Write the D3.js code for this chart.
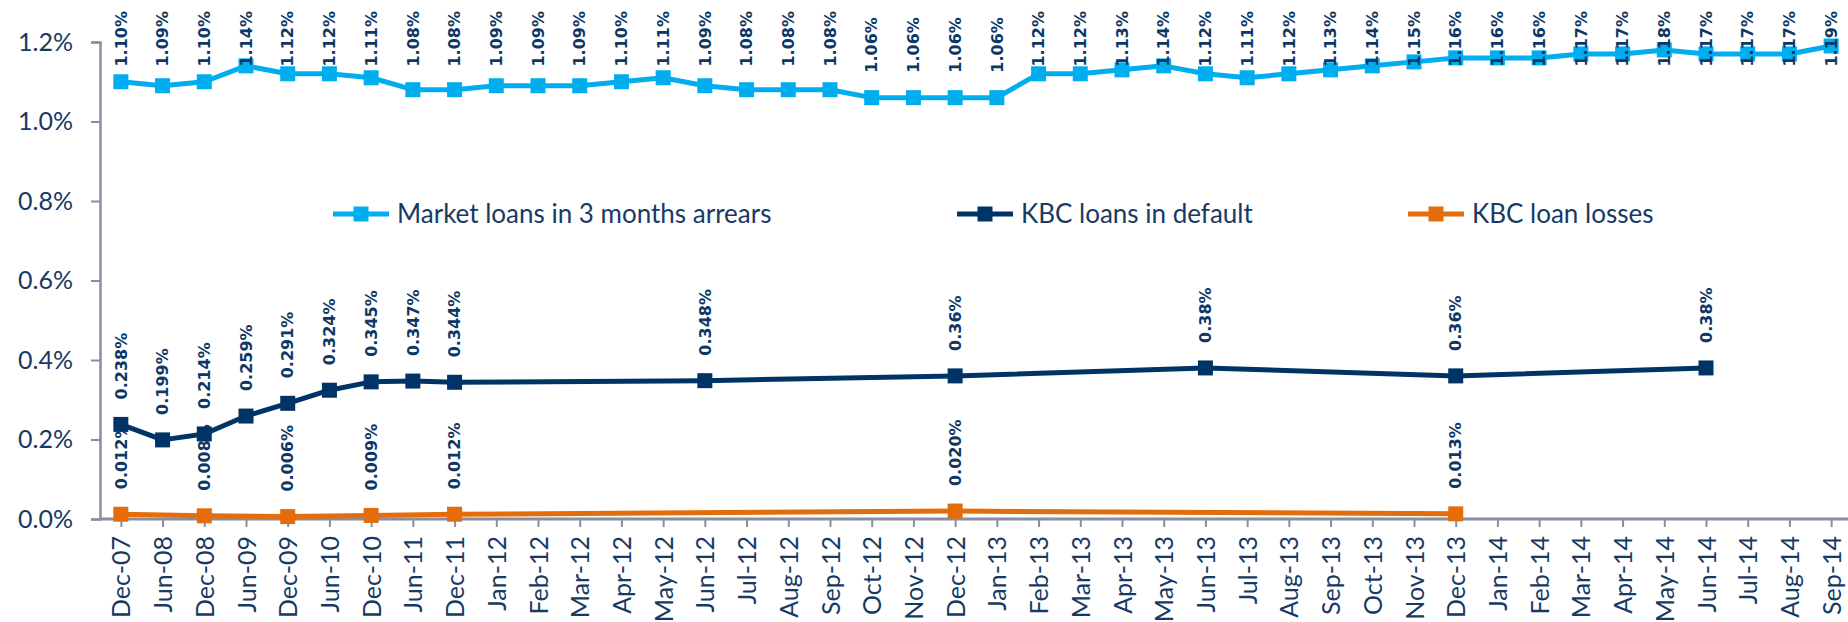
<!DOCTYPE html>
<html>
<head>
<meta charset="utf-8">
<script src="https://cdn.jsdelivr.net/npm/d3@7"></script>
<style>
  html, body { margin: 0; padding: 0; background: #fff; }
  svg { display: block; }
</style>
</head>
<body>
<svg id="chart" width="1848" height="622"></svg>
<script>
// ---------------- DATA ----------------
const categories = [
  "Dec-07","Jun-08","Dec-08","Jun-09","Dec-09","Jun-10","Dec-10","Jun-11","Dec-11",
  "Jan-12","Feb-12","Mar-12","Apr-12","May-12","Jun-12","Jul-12","Aug-12","Sep-12","Oct-12","Nov-12","Dec-12",
  "Jan-13","Feb-13","Mar-13","Apr-13","May-13","Jun-13","Jul-13","Aug-13","Sep-13","Oct-13","Nov-13","Dec-13",
  "Jan-14","Feb-14","Mar-14","Apr-14","May-14","Jun-14","Jul-14","Aug-14","Sep-14"
];
// Market loans in 3 months arrears (%), one value per category
const marketValues = [
  1.10,1.09,1.10,1.14,1.12,1.12,1.11,1.08,1.08,
  1.09,1.09,1.09,1.10,1.11,1.09,1.08,1.08,1.08,1.06,1.06,1.06,
  1.06,1.12,1.12,1.13,1.14,1.12,1.11,1.12,1.13,1.14,1.15,1.16,
  1.16,1.16,1.17,1.17,1.18,1.17,1.17,1.17,1.19
];
// KBC loans in default (%)
const defaultDates  = ["Dec-07","Jun-08","Dec-08","Jun-09","Dec-09","Jun-10","Dec-10","Jun-11","Dec-11","Jun-12","Dec-12","Jun-13","Dec-13","Jun-14"];
const defaultValues = [0.238,0.199,0.214,0.259,0.291,0.324,0.345,0.347,0.344,0.348,0.36,0.38,0.36,0.38];
// KBC loan losses (%)
const lossDates  = ["Dec-07","Dec-08","Dec-09","Dec-10","Dec-11","Dec-12","Dec-13"];
const lossValues = [0.012,0.008,0.006,0.009,0.012,0.020,0.013];
// Y axis ticks (%)
const yTicks = [0.0,0.2,0.4,0.6,0.8,1.0,1.2];

const seriesNames = ["Market loans in 3 months arrears","KBC loans in default","KBC loan losses"];
const seriesColors = ["#00AEEF","#003366","#E46C0A"];

// ---------------- LAYOUT ----------------
const W = 1848, H = 622;
const svg = d3.select("#chart");
svg.append("rect").attr("width", W).attr("height", H).attr("fill", "#fff");

const x = d3.scalePoint().domain(categories).range([100, 1852]).padding(0.5);
const y = d3.scaleLinear().domain([0, 1.2]).range([519, 42]);

const axisColor = "#878EA0";
const textColor = "#173A64";
const labelColor = "#0D3766";

// Y axis
const yAxis = svg.append("g").attr("transform", "translate(100,0)")
  .call(d3.axisLeft(y).tickValues(yTicks).tickSize(9).tickPadding(18).tickFormat(d => d.toFixed(1) + "%"));
yAxis.select(".domain").attr("stroke", axisColor).attr("stroke-width", 2.5);
yAxis.selectAll(".tick line").attr("stroke", axisColor).attr("stroke-width", 2);
yAxis.selectAll(".tick text").attr("fill", textColor)
  .style("font-family", "Lato, 'Open Sans', sans-serif").style("font-size", "25px");

// X axis
const xAxis = svg.append("g").attr("transform", "translate(0,519)")
  .call(d3.axisBottom(x).tickSize(8).tickSizeOuter(0));
xAxis.select(".domain").attr("stroke", axisColor).attr("stroke-width", 3)
  .attr("d", "M100,0H1848");
xAxis.selectAll(".tick line").attr("stroke", axisColor).attr("stroke-width", 2);
xAxis.selectAll(".tick text")
  .attr("fill", textColor)
  .style("font-family", "Lato, 'Open Sans', sans-serif").style("font-size", "25px")
  .attr("text-anchor", "end")
  .attr("transform", "rotate(-90)")
  .attr("x", -17).attr("y", 0).attr("dy", "0.36em");

// ---------------- SERIES ----------------
function drawSeries(cats, vals, color, fmt, clampTop) {
  const pts = cats.map((c, i) => ({ c, v: vals[i] }));
  const g = svg.append("g");
  g.append("path").datum(pts)
    .attr("fill", "none").attr("stroke", color).attr("stroke-width", 5)
    .attr("stroke-linejoin", "round")
    .attr("d", d3.line().x(d => x(d.c)).y(d => y(d.v)));
  const m = 15;
  g.selectAll("rect.mk").data(pts).join("rect").attr("class", "mk")
    .attr("x", d => x(d.c) - m / 2).attr("y", d => y(d.v) - m / 2)
    .attr("width", m).attr("height", m).attr("fill", color);
  const lbl = g.selectAll("text.lb").data(pts).join("text").attr("class", "lb")
    .text(d => fmt(d.v))
    .attr("fill", labelColor)
    .style("font-family", "'DejaVu Sans', Verdana, sans-serif")
    .style("font-weight", "bold").style("font-size", "16px")
    .attr("text-anchor", "start").attr("dy", "0.36em");
  lbl.each(function(d) {
    const len = this.getComputedTextLength();
    let yb = y(d.v) - 25;
    if (clampTop != null && yb - len < clampTop) yb = clampTop + len;
    d3.select(this).attr("transform", `translate(${x(d.c)},${yb}) rotate(-90)`);
  });
}

drawSeries(lossDates, lossValues, seriesColors[2], v => v.toFixed(3) + "%", null);
drawSeries(defaultDates, defaultValues, seriesColors[1], v => String(v) + "%", null);
drawSeries(categories, marketValues, seriesColors[0], v => v.toFixed(2) + "%", 11);

// ---------------- LEGEND ----------------
const legendY = 214;
const legendItems = [
  { name: seriesNames[0], color: seriesColors[0], x0: 333 },
  { name: seriesNames[1], color: seriesColors[1], x0: 957 },
  { name: seriesNames[2], color: seriesColors[2], x0: 1408 }
];
const lg = svg.append("g");
legendItems.forEach(it => {
  lg.append("line").attr("x1", it.x0).attr("x2", it.x0 + 56)
    .attr("y1", legendY).attr("y2", legendY)
    .attr("stroke", it.color).attr("stroke-width", 5);
  lg.append("rect").attr("x", it.x0 + 28 - 7.5).attr("y", legendY - 7.5)
    .attr("width", 15).attr("height", 15).attr("fill", it.color);
  lg.append("text").attr("x", it.x0 + 64).attr("y", legendY).attr("dy", "0.35em")
    .attr("fill", textColor)
    .style("font-family", "Lato, 'Open Sans', sans-serif").style("font-size", "26px")
    .text(it.name);
});
</script>
</body>
</html>
